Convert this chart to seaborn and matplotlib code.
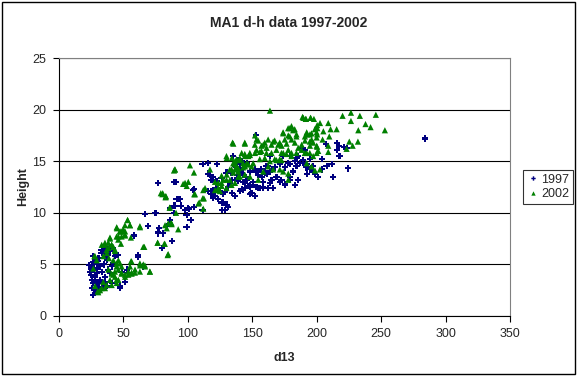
import matplotlib
matplotlib.use("Agg")
import matplotlib.pyplot as plt
from matplotlib.patches import Rectangle
import pandas as pd
import seaborn as sns

# ── Data: stem diameter d13 vs tree height ───────────────────────────────────
d97 = [27.0, 28.3, 25.7, 25.2, 27.7, 29.6, 30.8, 33.4, 34.7, 36.0, 37.3, 38.6, 39.9, 32.1, 33.4,
       28.3, 27.0, 27.7, 27.0, 29.6, 30.8, 33.4, 34.7, 36.0, 37.3, 32.1, 29.6, 38.6, 41.2, 42.5,
       43.7, 45.0, 36.0, 39.9, 41.2, 47.6, 51.5, 52.8, 48.9, 46.3, 42.5, 39.9, 36.0, 33.4,
       58.5, 76.9, 81.2, 87.7, 80.2, 61.4, 61.4, 65.7, 51.6, 47.7, 53.6,
       26.0, 25.5, 26.5, 28.0, 29.0, 31.5, 24.8, 26.2, 30.0, 31.0, 35.0, 23.5,
       76.9, 89.5, 67.0, 75.3, 89.8, 89.8, 69.6, 77.9, 76.9, 83.9,
       91.0, 111.7, 105.0, 91.5, 93.6, 94.6, 90.3, 101.1, 105.2, 99.3, 111.7, 116.1, 118.6, 119.9,
       116.1, 118.6, 122.5, 75.0, 99.3, 102.4, 86.4,
       104.5, 117.4, 119.5, 120.0, 121.3, 125.2, 129.1, 131.6, 134.3, 127.8, 130.4, 126.5, 94.2,
       98.1, 86.4, 100.6, 102.5, 116.1, 122.6, 135.5, 138.1, 142.0, 140.7, 143.3, 145.9, 144.6,
       147.1, 142.8,
       132.8, 136.7, 139.3, 141.9, 144.4, 148.3, 150.9, 153.5, 156.0, 158.6, 162.5, 163.8, 165.1,
       168.9, 172.8, 175.4, 179.3, 183.1, 185.7, 140.6, 148.3, 152.2, 149.6, 136.7, 131.5, 129.0,
       126.4, 159.9, 163.8, 167.6, 171.5, 175.4, 179.3, 183.1, 185.7, 153.5, 157.3, 161.2, 145.7,
       141.9, 138.0, 134.1, 130.2, 126.4, 122.5, 118.6, 119.9, 123.8, 127.7,
       135.5, 139.4, 140.6, 136.8, 143.2, 145.8, 148.4, 152.3, 154.8, 157.4, 158.7, 161.3, 162.6,
       163.9, 165.2, 169.0, 171.6, 175.5, 179.3, 181.9, 184.5, 187.1, 189.7, 192.2, 194.8, 197.4,
       198.7, 201.3, 158.7, 166.4, 148.4, 143.2, 138.1, 134.2, 154.8, 151.0, 179.3, 184.5, 174.2,
       178.1,
       284.0, 207.3, 216.1, 217.6, 221.5, 215.6, 223.3, 188.5, 191.1, 218.2, 204.0, 194.9, 189.8,
       211.7, 207.8, 191.8, 197.5, 192.9, 224.6, 213.0, 204.0, 217.7, 152.9]
h97 = [5.8, 5.4, 4.8, 4.6, 4.5, 5.0, 5.3, 6.1, 6.3, 5.8, 5.4, 5.9, 6.3, 4.8, 4.3,
       3.8, 3.2, 2.5, 2.0, 2.9, 2.4, 3.2, 2.7, 3.3, 2.9, 3.5, 4.2, 4.5, 4.8, 5.1,
       5.8, 5.9, 3.8, 4.2, 3.2, 2.9, 3.3, 4.5, 4.3, 5.9, 6.6, 6.7, 6.6, 6.4,
       7.8, 8.0, 8.0, 7.3, 6.6, 5.9, 5.7, 4.8, 3.3, 2.7, 4.2,
       3.5, 4.0, 5.2, 2.2, 3.3, 2.8, 4.3, 2.7, 4.6, 5.6, 5.0, 4.9,
       12.9, 13.0, 9.9, 10.0, 10.0, 10.7, 8.7, 8.5, 8.1, 8.7,
       13.0, 14.7, 12.3, 11.3, 11.3, 10.7, 10.7, 10.4, 10.6, 9.8, 10.3, 12.1, 11.8, 11.4,
       13.8, 13.2, 13.1, 10.0, 8.6, 9.3, 9.3,
       12.2, 13.7, 13.5, 12.2, 11.6, 12.1, 12.0, 12.5, 11.9, 11.0, 10.8, 10.3, 11.3,
       10.3, 10.5, 10.5, 9.3, 14.8, 14.7, 15.5, 14.9, 15.0, 14.2, 13.7, 13.2, 12.9,
       12.6, 12.2,
       12.9, 13.2, 13.1, 12.3, 12.4, 12.7, 13.0, 12.5, 12.4, 12.5, 12.4, 12.9, 13.2,
       13.5, 13.2, 12.8, 13.2, 12.7, 13.2, 12.1, 11.8, 11.6, 11.9, 11.6, 10.6, 10.3,
       11.0, 13.9, 14.0, 14.4, 14.7, 14.4, 14.7, 15.0, 15.5, 14.0, 14.2, 14.5, 13.5,
       13.9, 14.4, 13.9, 13.9, 13.4, 12.4, 12.1, 11.6, 11.3, 11.8,
       15.5, 15.1, 14.7, 14.5, 14.3, 14.8, 14.0, 14.2, 13.7, 13.5, 13.0, 13.8, 14.5,
       15.5, 14.2, 13.5, 13.0, 12.7, 13.5, 14.0, 14.5, 14.8, 15.1, 14.7, 14.2, 14.5,
       13.8, 13.5, 12.4, 12.4, 12.5, 13.0, 13.7, 13.2, 12.4, 12.7, 15.5, 15.3, 15.5,
       14.8,
       17.2, 16.7, 16.8, 16.5, 16.4, 16.1, 16.3, 16.3, 16.1, 15.5, 15.2, 15.2, 14.8,
       14.7, 14.5, 14.4, 14.0, 13.8, 14.3, 13.5, 14.2, 15.5, 17.5]

d02 = [53.5, 45.3, 51.5, 55.4, 47.6, 48.9, 51.5, 45.0, 46.3, 39.9, 38.6, 41.2, 36.0, 42.5, 43.7,
       37.3, 34.7, 39.1, 42.5, 45.0, 46.3, 43.7, 48.9, 51.5, 54.1, 56.6, 59.2, 63.1, 65.7, 67.0,
       63.1, 70.8, 56.6, 55.4, 48.9, 47.6, 42.5, 39.9, 37.3, 33.4, 30.8, 28.3, 34.7, 45.0, 28.3,
       27.0, 65.7, 63.1, 56.1,
       79.3, 83.0, 86.3, 87.6, 76.8, 82.4, 85.0, 90.2, 96.6, 92.8,
       39.9, 46.4, 49.0, 51.6, 48.4, 66.5, 76.9, 82.0, 84.6, 70.9, 56.7, 59.3, 63.2, 67.0, 56.2,
       46.4, 45.1, 27.8, 29.6, 33.5, 36.0, 38.6, 41.2, 43.8, 37.4, 38.6, 41.2, 43.8, 46.4, 49.0,
       51.6, 54.1, 45.1, 41.2, 36.0, 32.2, 30.4,
       80.5, 83.1, 86.2, 89.5, 53.6, 55.4, 45.1, 47.7, 50.2, 51.6, 63.2, 87.2, 83.9,
       90.3, 101.9, 105.0, 98.1, 100.6, 99.4, 112.2, 113.6, 111.8, 105.8, 108.4, 112.2, 91.1,
       80.8, 83.3, 117.4, 121.3, 123.9, 126.5, 124.6, 121.3, 130.4, 132.9, 136.8, 139.4, 134.3,
       130.4, 142.0, 145.9, 144.6, 147.1, 139.4, 136.8, 82.6, 85.1, 87.7,
       174.1, 178.0, 180.6, 183.1, 184.4, 179.3, 175.4, 171.5, 167.6, 165.1, 162.5, 159.9, 157.3,
       154.8, 152.2, 153.5, 157.3, 161.2, 165.1, 168.9, 172.8, 176.7, 180.6, 184.4, 148.3, 144.4,
       140.6, 138.0, 143.1, 147.0, 150.9, 156.0, 159.9, 163.8, 167.6, 171.5, 135.4, 132.8, 135.4,
       139.3, 143.1, 130.2, 126.4, 123.8, 125.1, 130.2, 134.1,
       134.9, 144.4, 130.2, 126.4, 127.7, 109.1, 105.2, 112.7,
       163.9, 189.2, 195.3, 191.7, 200.5, 198.7, 200.5, 196.1, 192.8, 191.0, 194.8, 197.4, 200.5,
       179.3, 181.9, 174.2, 178.1, 184.5, 152.3, 153.5, 144.5, 135.5, 158.7, 161.3, 166.4, 170.3,
       172.9, 176.8, 180.6, 183.2, 185.8, 188.4, 190.9, 194.8, 197.4, 201.3, 144.5, 148.4, 152.3,
       156.1, 140.6, 136.8, 169.0, 172.9, 174.2, 178.1, 180.6, 134.2, 136.8, 138.1, 147.1, 149.7,
       140.6, 144.5, 148.4, 154.8, 158.7, 162.6, 166.4, 171.6, 174.2, 178.1, 178.1,
       189.8, 191.8, 195.5, 198.0, 220.2, 226.7, 233.6, 246.0, 202.7, 209.1, 226.7, 238.0, 241.9,
       215.6, 210.9, 205.3, 200.6, 200.1, 192.4, 194.9, 232.4, 253.0, 209.9, 204.7, 200.1, 196.2,
       191.1, 225.4, 232.1, 228.0, 188.5, 209.1, 200.1, 194.9, 223.3, 192.4, 200.1, 209.1, 192.4,
       196.2, 202.7, 198.8]
h02 = [9.3, 8.5, 8.8, 8.8, 8.2, 7.7, 7.9, 7.7, 7.4, 7.6, 7.1, 6.9, 6.9, 6.7, 6.3,
       6.4, 5.8, 5.6, 5.4, 5.1, 4.5, 4.3, 4.2, 4.0, 4.3, 4.2, 4.2, 4.3, 5.0, 4.8,
       5.1, 4.3, 5.3, 4.8, 4.8, 5.1, 4.0, 3.5, 3.0, 2.7, 2.3, 2.9, 3.3, 3.5, 5.8,
       4.6, 6.7, 8.7, 7.6,
       11.9, 11.5, 10.5, 9.0, 7.1, 7.0, 6.0, 14.2, 12.8, 8.4,
       7.5, 7.7, 8.2, 7.8, 7.0, 6.7, 7.1, 7.0, 5.9, 4.3, 4.1, 4.5, 4.9, 4.9, 5.3,
       5.4, 4.8, 5.8, 5.4, 6.9, 7.1, 6.6, 6.9, 6.4, 6.1, 4.5, 4.1, 3.8, 3.5, 4.1,
       3.8, 4.0, 3.2, 3.0, 2.7, 2.5, 2.4,
       11.8, 11.6, 10.5, 14.1, 9.3, 8.8, 8.6, 8.2, 8.4, 8.2, 8.6, 9.0, 8.5,
       14.2, 14.6, 13.9, 12.9, 13.0, 12.6, 12.2, 12.4, 11.4, 11.8, 10.9, 10.4, 10.0,
       11.9, 11.6, 14.2, 13.0, 12.9, 12.6, 12.2, 12.2, 13.7, 13.2, 14.7, 14.3, 15.3,
       15.3, 15.8, 14.8, 14.5, 15.5, 13.5, 12.9, 8.8, 9.0, 8.9,
       17.8, 18.2, 18.4, 18.1, 17.4, 17.4, 17.1, 16.8, 17.0, 16.6, 17.1, 16.8, 16.5,
       17.0, 16.6, 16.1, 16.0, 15.8, 15.8, 16.1, 15.8, 15.7, 15.5, 15.8, 15.8, 15.7,
       15.3, 15.2, 14.8, 14.7, 14.8, 15.2, 15.3, 15.0, 15.2, 15.2, 14.8, 14.2, 13.9,
       14.0, 14.4, 13.2, 12.9, 12.4, 12.1, 12.4, 12.7,
       16.8, 16.8, 15.5, 13.6, 13.2, 11.0, 11.8, 11.4,
       19.9, 19.3, 19.2, 19.1, 18.5, 18.1, 17.6, 17.7, 17.6, 17.4, 16.9, 16.8, 16.4,
       18.2, 18.0, 17.7, 17.5, 17.6, 17.5, 17.1, 16.7, 16.7, 16.6, 16.3, 16.9, 16.6,
       16.5, 16.7, 17.1, 16.8, 16.3, 16.1, 15.8, 15.8, 15.5, 16.0, 15.5, 15.6, 15.8,
       15.9, 15.1, 15.0, 15.1, 15.1, 15.8, 16.1, 15.8, 14.2, 14.2, 14.5, 14.7, 14.5,
       13.5, 13.7, 13.5, 13.2, 14.0, 14.5, 14.2, 14.2, 14.0, 13.8, 13.2,
       19.2, 19.1, 19.2, 19.1, 19.4, 19.7, 19.4, 19.5, 18.7, 18.7, 18.9, 18.6, 18.3,
       18.1, 18.1, 17.9, 18.2, 17.8, 17.8, 17.6, 18.0, 18.0, 17.4, 17.1, 17.3, 17.1,
       17.0, 16.9, 16.9, 16.5, 16.6, 16.5, 16.5, 16.5, 16.2, 15.8, 15.8, 15.9, 14.8,
       14.5, 14.2, 14.1]

YEARS = ["1997", "2002"]
COLORS = {"1997": "#000080", "2002": "#008000"}
MARKERS = {"1997": "P", "2002": "^"}

df = pd.concat([
    pd.DataFrame({"d13": d97, "Height": h97, "Year": "1997"}),
    pd.DataFrame({"d13": d02, "Height": h02, "Year": "2002"}),
], ignore_index=True)

sns.set_style("white")
plt.rcParams["font.family"] = ["Liberation Sans", "DejaVu Sans"]

fig = plt.figure(figsize=(5.77, 3.76), dpi=100)
ax = fig.add_axes([0.1014, 0.1596, 0.7825, 0.6861])

sns.scatterplot(data=df, x="d13", y="Height", hue="Year", style="Year",
                hue_order=YEARS, style_order=YEARS,
                palette=COLORS, markers=MARKERS, s=20, linewidth=0, ax=ax)

ax.set_xlim(0, 350)
ax.set_ylim(0, 25)
ax.set_xticks(range(0, 351, 50))
ax.set_yticks(range(0, 26, 5))
ax.yaxis.grid(True, color="black", lw=0.8)
ax.set_axisbelow(True)
for side in ["left", "bottom"]:
    ax.spines[side].set_color("black")
    ax.spines[side].set_linewidth(0.8)
for side in ["top", "right"]:
    ax.spines[side].set_color("#808080")
    ax.spines[side].set_linewidth(0.8)
ax.tick_params(direction="out", length=4, width=0.8, color="black",
               labelsize=9, left=True, bottom=True, pad=5)

ax.set_xlabel("d13", fontsize=9, fontweight="bold", labelpad=8)
ax.set_ylabel("")
fig.text(23 / 577, 0.503, "Height", rotation=90, ha="center", va="center",
         fontsize=9, fontweight="bold")
fig.text(0.5, 0.94, "MA1 d-h data 1997-2002", ha="center", va="center",
         fontsize=10, fontweight="bold")

handles, labels = ax.get_legend_handles_labels()
ax.legend(handles, labels, loc="center left", bbox_to_anchor=(0.907, 0.503),
          bbox_transform=fig.transFigure, frameon=True, fancybox=False,
          edgecolor="black", fontsize=9, handletextpad=0.1, borderpad=0.3,
          labelspacing=0.2, handlelength=1.0, markerscale=0.7, borderaxespad=0)
ax.get_legend().get_frame().set_linewidth(0.8)

fig.patches.append(Rectangle((0.004, 0.004), 0.992, 0.99, transform=fig.transFigure,
                             fill=False, edgecolor="black", lw=1.0))

fig.savefig("out.png", dpi=100)
